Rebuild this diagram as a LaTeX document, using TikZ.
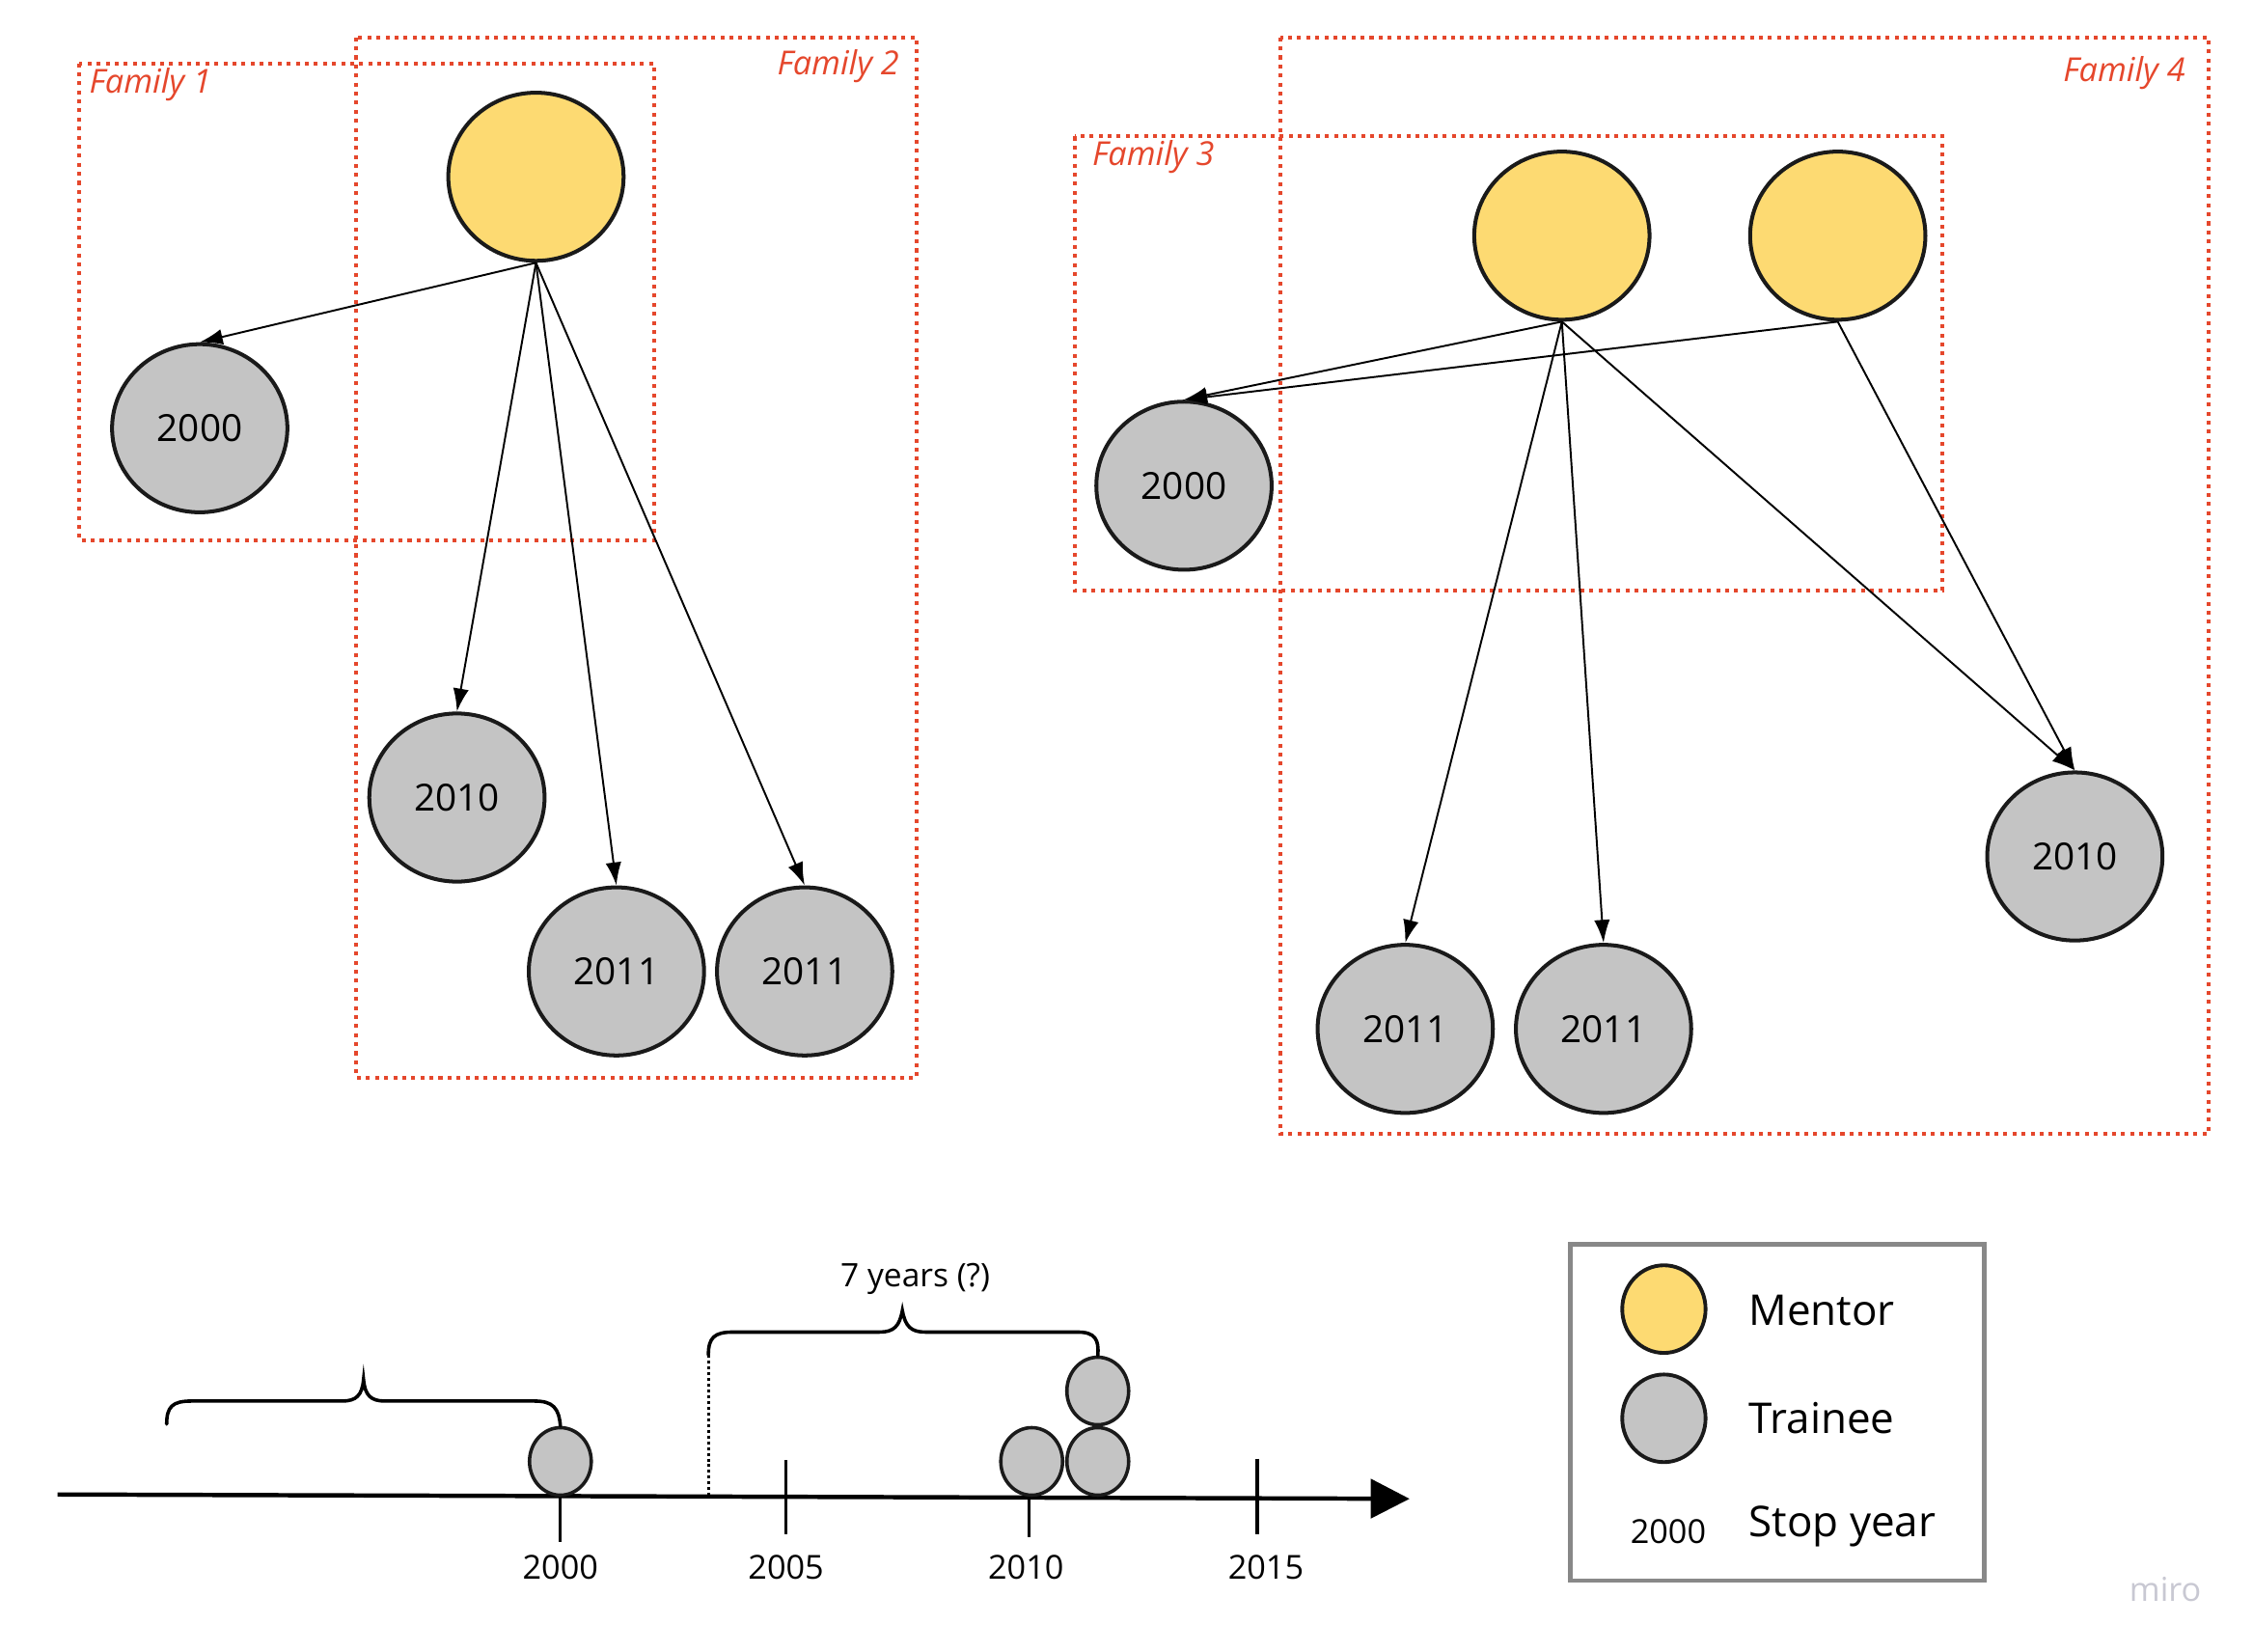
\documentclass[tikz,border=0pt]{standalone}
\usepackage{fontspec}
\setmainfont{Open Sans}
\usetikzlibrary{arrows.meta,shapes.geometric}
\definecolor{famred}{HTML}{E5472C}
\definecolor{mentorfill}{HTML}{FDDA72}
\definecolor{traineefill}{HTML}{C4C4C4}
\definecolor{circline}{HTML}{1A1A1A}
\definecolor{legline}{HTML}{888888}
\definecolor{mirogray}{HTML}{C8C8D2}
\tikzset{
  fambox/.style={draw=famred, line width=2.7pt, dash pattern=on 2.7pt off 3.6pt},
  famlabel/.style={text=famred, font=\fontsize{23}{27}\selectfont\itshape, inner sep=0pt},
  mentor/.style={ellipse, draw=circline, line width=2.7pt, fill=mentorfill, minimum width=122pt, minimum height=117pt, inner sep=0pt},
  trainee/.style={ellipse, draw=circline, line width=2.7pt, fill=traineefill, minimum width=122pt, minimum height=117pt, inner sep=0pt, font=\fontsize{26}{31}\selectfont},
  small/.style={ellipse, draw=circline, line width=2.4pt, fill=traineefill, minimum width=43pt, minimum height=47pt, inner sep=0pt},
  legcirc/.style={ellipse, draw=circline, line width=2.6pt, minimum width=58pt, minimum height=61pt, inner sep=0pt},
  link/.style={line width=1.3pt, -{Latex[length=16pt,width=11pt]}},
  brace/.style={line width=2.4pt, line cap=round},
  ticklab/.style={font=\fontsize{23}{27}\selectfont, inner sep=0pt},
  legtext/.style={font=\fontsize{29.5}{34}\selectfont, anchor=west, inner sep=0pt},
}
\begin{document}
\begin{tikzpicture}[x=1pt, y=-1pt]
\useasboundingbox (0,0) rectangle (1568,1149.6);
% family boxes
\draw[fambox] (55,44) rectangle (455,376);
\draw[fambox] (248,26) rectangle (638,750);
\draw[fambox] (748,95) rectangle (1352,411);
\draw[fambox] (891,26) rectangle (1537,789);
\node[famlabel, anchor=west] (f1) at (62,59) {Family 1};
\node[famlabel, anchor=east] (f2) at (626,46) {Family 2};
\node[famlabel, anchor=west] (f3) at (760,109) {Family 3};
\node[famlabel, anchor=east] (f4) at (1521,51) {Family 4};
% left family
\node[mentor] (mA) at (373,123) {};
\node[trainee] (a2000) at (139,298) {2000};
\node[trainee] (a2010) at (318,555) {2010};
\node[trainee] (a2011) at (429,676) {2011};
\node[trainee] (b2011) at (560,676) {2011};
\draw[link] (mA.south) -- (a2000.north);
\draw[link] (mA.south) -- (a2010.north);
\draw[link] (mA.south) -- (a2011.north);
\draw[link] (mA.south) -- (b2011.north);
% right families
\node[mentor] (mB) at (1087,164) {};
\node[mentor] (mC) at (1279,164) {};
\node[trainee] (c2000) at (824,338) {2000};
\node[trainee] (c2010) at (1444,596) {2010};
\node[trainee] (c2011) at (978,716) {2011};
\node[trainee] (d2011) at (1116,716) {2011};
\draw[link] (mB.south) -- (c2000.north);
\draw[link] (mC.south) -- (c2000.north);
\draw[link] (mB.south) -- (c2011.north);
\draw[link] (mB.south) -- (d2011.north);
\draw[link] (mB.south) -- (c2010.north);
\draw[link] (mC.south) -- (c2010.north);
% timeline
\coordinate (tl0) at (40,1040);
\coordinate (tl1) at (981,1043);
\draw[line width=3pt, -{Triangle[length=27pt,width=27pt]}] (tl0) -- (tl1);
\draw[line width=2.2pt] (390,1040) -- (390,1073);
\draw[line width=2.2pt] (547,1016) -- (547,1068);
\draw[line width=2.2pt] (716,1040) -- (716,1070);
\draw[line width=2.2pt] (875,1015) -- (875,1068);
\node[ticklab] (l2000) at (390,1091) {2000};
\node[ticklab] (l2005) at (547,1091) {2005};
\node[ticklab] (l2010) at (714,1091) {2010};
\node[ticklab] (l2015) at (881,1091) {2015};
\node[small] (s2000) at (390,1017) {};
\node[small] (s2010) at (718,1017) {};
\node[small] (s2011a) at (764,1017) {};
\node[small] (s2011b) at (764,968) {};
% braces
\draw[brace] (116,991) .. controls (116,979) and (120,975) .. (133,975) -- (238,975)
  .. controls (248,975) and (252,971) .. (253,960)
  .. controls (254,971) and (258,975) .. (268,975) -- (372,975)
  .. controls (385,975) and (389,980) .. (s2000.north);
\coordinate (dl) at (493,943);
\draw[line width=1.8pt, dash pattern=on 2pt off 2pt] (dl) -- (493,1040);
\draw[brace] (dl) .. controls (493,931) and (497,927) .. (510,927) -- (612,927)
  .. controls (622,927) and (626,923) .. (628,912)
  .. controls (630,923) and (634,927) .. (644,927) -- (750,927)
  .. controls (762,927) and (765,932) .. (s2011b.north);
\node[font=\fontsize{22.5}{27}\selectfont, inner sep=0pt] (yrs) at (637,890) {7 years (?)};
% legend
\draw[legline, line width=3pt] (1093,866) rectangle (1381,1100);
\node[legcirc, fill=mentorfill] (lm) at (1158,911) {};
\node[legcirc, fill=traineefill] (lt) at (1158,987) {};
\node[ticklab] (ly) at (1161,1066) {2000};
\node[legtext] (tm) at (1217,912) {Mentor};
\node[legtext] (tt) at (1217,987) {Trainee};
\node[legtext] (ts) at (1217,1062) {Stop year};
\node[font=\fontsize{23}{27}\selectfont, text=mirogray, inner sep=0pt] (miro) at (1507,1106) {miro};
\end{tikzpicture}
\end{document}
